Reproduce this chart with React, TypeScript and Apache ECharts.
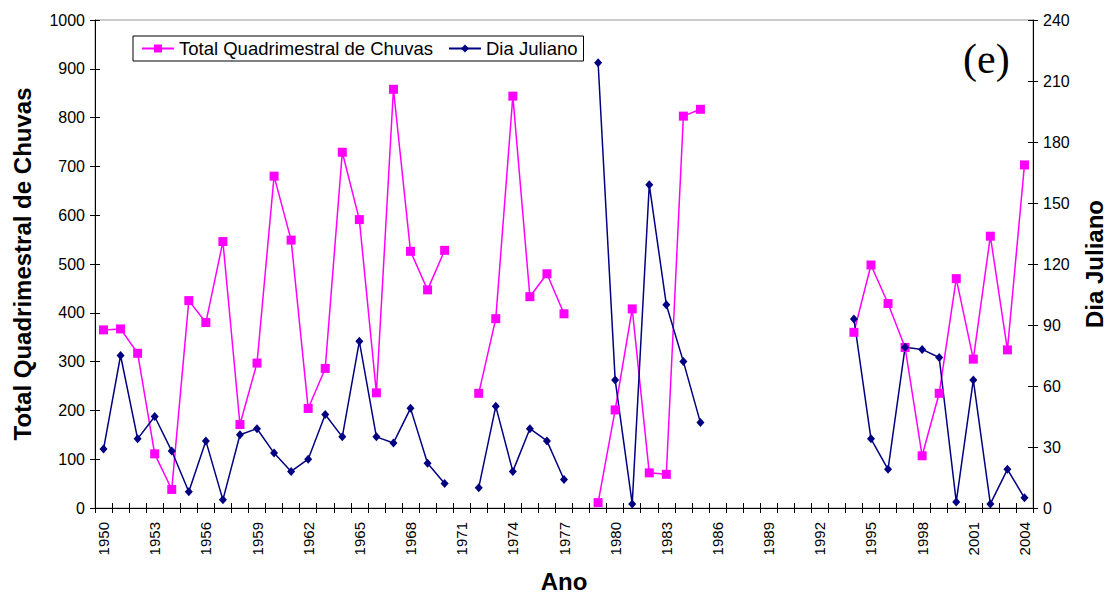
import React, { useEffect, useRef } from "react";
import * as echarts from "echarts";

const years = [
  "1950", "1951", "1952", "1953", "1954", "1955", "1956", "1957", "1958", "1959",
  "1960", "1961", "1962", "1963", "1964", "1965", "1966", "1967", "1968", "1969",
  "1970", "1971", "1972", "1973", "1974", "1975", "1976", "1977", "1978", "1979",
  "1980", "1981", "1982", "1983", "1984", "1985", "1986", "1987", "1988", "1989",
  "1990", "1991", "1992", "1993", "1994", "1995", "1996", "1997", "1998", "1999",
  "2000", "2001", "2002", "2003", "2004",
];

const chuvas = [
  365, 367, 317, 111, 38, 425, 380, 546, 171, 297,
  680, 549, 204, 286, 729, 591, 236, 858, 526, 447,
  528, null, 235, 388, 844, 433, 480, 398, null, 11,
  201, 408, 72, 69, 803, 817, null, null, null, null,
  null, null, null, null, 360, 498, 419, 329, 107, 235,
  470, 305, 557, 324, 703,
];

const diaJuliano = [
  29, 75, 34, 45, 28, 8, 33, 4, 36, 39,
  27, 18, 24, 46, 35, 82, 35, 32, 49, 22,
  12, null, 10, 50, 18, 39, 33, 14, null, 219,
  63, 2, 159, 100, 72, 42, null, null, null, null,
  null, null, null, null, 93, 34, 19, 79, 78, 74,
  3, 63, 2, 19, 5,
];

const FONT = "'Liberation Sans', Arial, sans-serif";

export default function App() {
  const ref = useRef<HTMLDivElement>(null);
  useEffect(() => {
    document.body.style.margin = "0";
    const chart = echarts.init(ref.current!, undefined, { renderer: "svg" });
    const axisLine = { show: true, lineStyle: { color: "#000", width: 1 } };
    const plain = (v: number) => String(v);
    chart.setOption({
      animation: false,
      backgroundColor: "#fff",
      textStyle: { fontFamily: FONT },
      grid: {
        left: 95, right: 76, top: 20, bottom: 87,
        outerBoundsMode: "none",
        containLabel: false,
        show: true, borderColor: "#999", borderWidth: 1,
      },
      legend: {
        left: 133, top: 36,
        padding: [3, 6, 3, 8],
        itemGap: 15, itemWidth: 32, itemHeight: 10,
        borderColor: "#000", borderWidth: 1,
        textStyle: { fontSize: 18.5, color: "#000", fontFamily: FONT },
        data: ["Total Quadrimestral de Chuvas", "Dia Juliano"],
      },
      xAxis: [
        {
          type: "category", data: years, position: "bottom", boundaryGap: true,
          name: "Ano", nameLocation: "middle", nameGap: 61,
          nameTextStyle: { fontSize: 24, fontWeight: "bold", color: "#000", fontFamily: FONT },
          axisLine,
          axisTick: { show: true, interval: 0, length: 5, lineStyle: { color: "#000" } },
          axisLabel: { interval: 2, rotate: 90, fontSize: 15, color: "#000", margin: 14, fontFamily: FONT },
          splitLine: { show: false },
        },
        {
          type: "category", data: years, position: "bottom", boundaryGap: true,
          axisLine: { show: false },
          axisTick: { show: true, inside: true, interval: 0, length: 5, lineStyle: { color: "#000" } },
          axisLabel: { show: false },
          splitLine: { show: false },
        },
      ],
      yAxis: [
        {
          type: "value", position: "left", min: 0, max: 1000, interval: 100,
          name: "Total Quadrimestral de Chuvas", nameLocation: "middle", nameGap: 61,
          nameTextStyle: { fontSize: 24, fontWeight: "bold", color: "#000", fontFamily: FONT },
          axisLine,
          axisTick: { show: true, length: 5, lineStyle: { color: "#000" } },
          axisLabel: { fontSize: 16, color: "#000", margin: 10, fontFamily: FONT, formatter: plain },
          splitLine: { show: false },
        },
        {
          type: "value", position: "right", min: 0, max: 240, interval: 30,
          name: "Dia Juliano", nameLocation: "middle", nameGap: 49,
          nameTextStyle: { fontSize: 24, fontWeight: "bold", color: "#000", fontFamily: FONT },
          axisLine,
          axisTick: { show: true, length: 5, lineStyle: { color: "#000" } },
          axisLabel: { fontSize: 16, color: "#000", margin: 10, fontFamily: FONT, formatter: plain },
          splitLine: { show: false },
        },
        {
          type: "value", position: "left", min: 0, max: 1000, interval: 100,
          axisLine: { show: false },
          axisTick: { show: true, inside: true, length: 5, lineStyle: { color: "#000" } },
          axisLabel: { show: false },
          splitLine: { show: false },
        },
        {
          type: "value", position: "right", min: 0, max: 240, interval: 30,
          axisLine: { show: false },
          axisTick: { show: true, inside: true, length: 5, lineStyle: { color: "#000" } },
          axisLabel: { show: false },
          splitLine: { show: false },
        },
      ],
      graphic: [
        {
          type: "text", left: 963, top: 38,
          style: { text: "(e)", fontSize: 42, fontFamily: "'Liberation Serif', 'Times New Roman', serif", fill: "#000" },
        },
      ],
      series: [
        {
          name: "Total Quadrimestral de Chuvas", type: "line", xAxisIndex: 0, yAxisIndex: 0,
          data: chuvas, connectNulls: false,
          symbol: "rect", symbolSize: 9,
          lineStyle: { color: "#FF00FF", width: 1.5 },
          itemStyle: { color: "#FF00FF" },
        },
        {
          name: "Dia Juliano", type: "line", xAxisIndex: 0, yAxisIndex: 1,
          data: diaJuliano, connectNulls: false,
          symbol: "diamond", symbolSize: [8, 9],
          lineStyle: { color: "#000080", width: 1.5 },
          itemStyle: { color: "#000080" },
        },
      ],
    });
    return () => chart.dispose();
  }, []);
  return <div ref={ref} style={{ position: "fixed", left: 0, top: 0, width: 1109, height: 595 }} />;
}
